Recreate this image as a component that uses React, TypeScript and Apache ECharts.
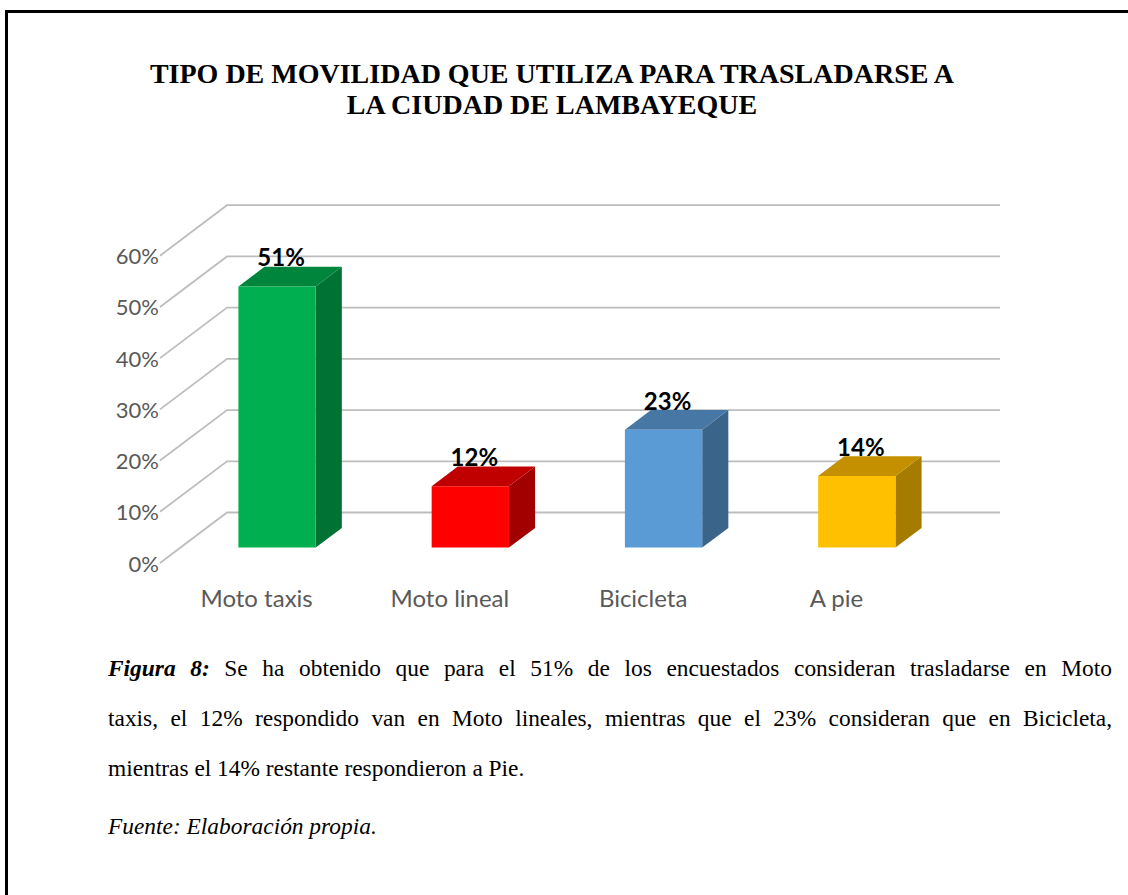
import React, { useEffect, useRef } from "react";
import * as echarts from "echarts";

const categories = ["Moto taxis", "Moto lineal", "Bicicleta", "A pie"];
const values = [51, 12, 23, 14];
const yTicks = [0, 10, 20, 30, 40, 50, 60];
const frontColors = ["#00B050", "#FF0000", "#5B9BD5", "#FFC000"];
const topColors = ["#00853D", "#C00000", "#4777A4", "#C49000"];
const sideColors = ["#007234", "#A20000", "#3A6489", "#A67C00"];

const titleLines = [
  "TIPO DE MOVILIDAD QUE UTILIZA PARA TRASLADARSE A",
  "LA CIUDAD DE LAMBAYEQUE",
];
const captionLead = "Figura 8:";
const captionLines = [
  "Se ha obtenido que para el 51% de los encuestados consideran trasladarse en Moto",
  "taxis, el 12% respondido van en Moto lineales, mientras que el 23% consideran que en Bicicleta,",
  "mientras el 14% restante respondieron a Pie.",
];
const sourceLine = "Fuente: Elaboración propia.";

// 3D projection: offset from front plane to back wall
const DX = 67;
const DY = 50.5;
const FRONT_DEPTH = 0.305;
const BACK_DEPTH = 0.695;

const CAP_FONT = '23.4px "Liberation Serif"';
const CAP_LEAD_FONT = 'italic bold 23.4px "Liberation Serif"';

function measure(ctx: CanvasRenderingContext2D, font: string, t: string) {
  ctx.font = font;
  return ctx.measureText(t).width;
}

function buildCaption(): any[] {
  const canvas = document.createElement("canvas");
  const ctx = canvas.getContext("2d") as CanvasRenderingContext2D;
  const left = 108;
  const right = 1112;
  const ys = [668, 718, 768];
  const out: any[] = [];
  captionLines.forEach((line, li) => {
    const words: { t: string; font: string }[] = [];
    if (li === 0) {
      captionLead.split(" ").forEach((w) => words.push({ t: w, font: CAP_LEAD_FONT }));
    }
    line.split(" ").forEach((w) => words.push({ t: w, font: CAP_FONT }));
    const widths = words.map((w) => measure(ctx, w.font, w.t));
    const sum = widths.reduce((a, b) => a + b, 0);
    const spaceW = measure(ctx, CAP_FONT, " ");
    const justify = li < captionLines.length - 1;
    const gap = justify ? (right - left - sum) / (words.length - 1) : spaceW;
    let x = left;
    words.forEach((w, wi) => {
      out.push({
        type: "text",
        style: {
          text: w.t,
          x,
          y: ys[li],
          font: w.font,
          fill: "#000000",
          textAlign: "left",
          textVerticalAlign: "middle",
        },
      });
      x += widths[wi] + gap;
    });
  });
  out.push({
    type: "text",
    style: {
      text: sourceLine,
      x: left,
      y: 826,
      font: 'italic 23.4px "Liberation Serif"',
      fill: "#000000",
      textAlign: "left",
      textVerticalAlign: "middle",
    },
  });
  return out;
}

export default function App() {
  const ref = useRef<HTMLDivElement>(null);
  useEffect(() => {
    if (!ref.current) return;
    const chart = echarts.init(ref.current, null, { renderer: "svg" });

    const graphics: any[] = [
      {
        type: "line",
        shape: { x1: 6.5, y1: 11.5, x2: 6.5, y2: 900 },
        style: { stroke: "#000", lineWidth: 3 },
      },
      {
        type: "line",
        shape: { x1: 5, y1: 11.5, x2: 1130, y2: 11.5 },
        style: { stroke: "#000", lineWidth: 3 },
      },
      ...titleLines.map((t, i) => ({
        type: "text",
        style: {
          text: t,
          x: 552,
          y: 73 + i * 31,
          font: 'bold 28px "Liberation Serif"',
          fill: "#000",
          textAlign: "center",
          textVerticalAlign: "middle",
        },
      })),
      ...buildCaption(),
    ];

    chart.setOption({
      animation: false,
      backgroundColor: "#ffffff",
      graphic: graphics,
      grid: { left: 160, top: 255.7, width: 773, height: 307.3 },
      xAxis: {
        type: "category",
        data: categories,
        axisLine: { show: false },
        axisTick: { show: false },
        axisLabel: {
          color: "#595959",
          fontSize: 24,
          fontFamily: "Lato",
          margin: 22,
        },
      },
      yAxis: {
        type: "value",
        min: 0,
        max: 60,
        interval: 10,
        axisLine: { show: false },
        axisTick: { show: false },
        splitLine: { show: false },
        axisLabel: {
          formatter: "{value}%",
          color: "#595959",
          fontSize: 22,
          fontFamily: "Lato",
          margin: 1,
        },
      },
      series: [
        {
          type: "custom",
          name: "grid3d",
          silent: true,
          clip: false,
          data: yTicks.map((v) => [0, v]),
          renderItem: (params: any, api: any) => {
            const p = api.coord([0, api.value(1)]);
            const cs = params.coordSys;
            return {
              type: "polyline",
              shape: {
                points: [
                  [cs.x, p[1]],
                  [cs.x + DX, p[1] - DY],
                  [cs.x + cs.width + DX, p[1] - DY],
                ],
              },
              style: { stroke: "#BDBDBD", lineWidth: 1.8, fill: null },
            };
          },
        },
        {
          type: "custom",
          name: "bars",
          clip: false,
          data: values.map((v, i) => [i, v]),
          renderItem: (params: any, api: any) => {
            const i = params.dataIndex;
            const v = api.value(1);
            const top = api.coord([api.value(0), v]);
            const base = api.coord([api.value(0), 0]);
            const band = api.size([1, 0])[0];
            const hw = band * 0.2;
            const fx = FRONT_DEPTH * DX;
            const fy = -FRONT_DEPTH * DY;
            const ddx = (BACK_DEPTH - FRONT_DEPTH) * DX;
            const ddy = -(BACK_DEPTH - FRONT_DEPTH) * DY;
            const x0 = top[0] - hw + fx;
            const x1 = top[0] + hw + fx;
            const yT = top[1] + fy;
            const yB = base[1] + fy;
            return {
              type: "group",
              children: [
                {
                  type: "polygon",
                  shape: {
                    points: [
                      [x1, yT],
                      [x1 + ddx, yT + ddy],
                      [x1 + ddx, yB + ddy],
                      [x1, yB],
                    ],
                  },
                  style: { fill: sideColors[i] },
                },
                {
                  type: "polygon",
                  shape: {
                    points: [
                      [x0, yT],
                      [x1, yT],
                      [x1 + ddx, yT + ddy],
                      [x0 + ddx, yT + ddy],
                    ],
                  },
                  style: { fill: topColors[i] },
                },
                {
                  type: "rect",
                  shape: { x: x0, y: yT, width: x1 - x0, height: yB - yT },
                  style: { fill: frontColors[i] },
                },
                {
                  type: "text",
                  style: {
                    text: v + "%",
                    x: (x0 + x1) / 2 + 4,
                    y: yT + ddy - 10,
                    textAlign: "center",
                    textVerticalAlign: "middle",
                    font: 'bold 24px "Lato"',
                    fill: "#000000",
                  },
                },
              ],
            };
          },
        },
      ],
    });
    return () => chart.dispose();
  }, []);
  return (
    <div
      ref={ref}
      style={{ position: "fixed", left: 0, top: 0, width: 1128, height: 895 }}
    />
  );
}
